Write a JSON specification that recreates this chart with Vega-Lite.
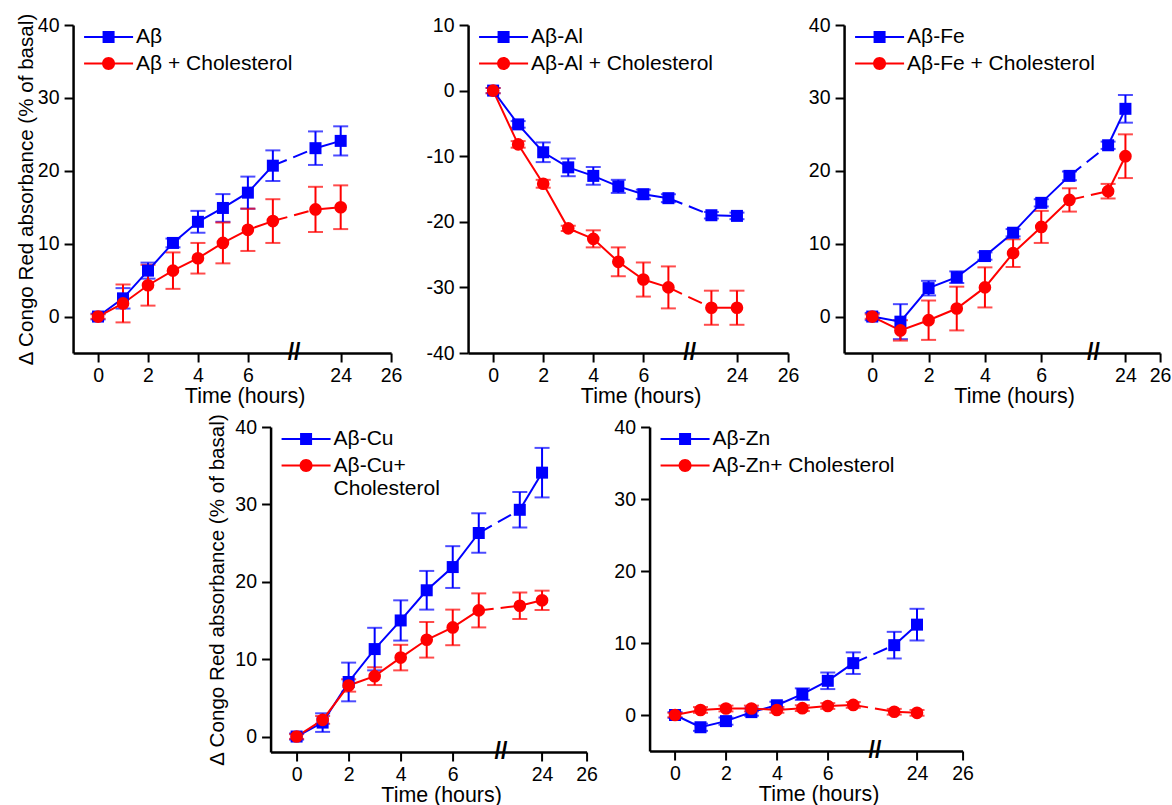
{
"$schema": "https://vega.github.io/schema/vega-lite/v6.json",
"background": "white",
"padding": {"left": 16, "top": 12, "right": 0, "bottom": 0},
"config": {
 "view": {"stroke": null},
 "font": "Liberation Sans",
 "axis": {"domainColor": "black", "domainWidth": 2.5, "tickColor": "black", "tickWidth": 2, "tickSize": 9, "labelFont": "Liberation Sans", "labelFontSize": 19.5, "labelColor": "black", "titleFont": "Liberation Sans", "titleFontSize": 21, "titleFontWeight": "normal", "titleColor": "black", "grid": false, "labelExpr": "replace(datum.label, '−', '-')"},
 "axisX": {"labelPadding": 4, "titlePadding": 1, "labelFlush": false, "titleFontSize": 21.4},
 "axisY": {"labelPadding": 5, "titleFontSize": 20.6},
 "legend": {"orient": "none", "legendX": 25, "legendY": 1.5, "labelFont": "Liberation Sans", "labelFontSize": 21, "labelColor": "black", "symbolSize": 400, "symbolStrokeWidth": 0, "labelOffset": 17, "rowPadding": 4.5, "padding": 0, "labelLimit": 400}
},
"datasets": {
 "ab": [
  {"t": 0, "series": "Aβ", "y": 0, "err": 0.4},
  {"t": 1, "series": "Aβ", "y": 2.5, "err": 1.4},
  {"t": 2, "series": "Aβ", "y": 6.3, "err": 1.1},
  {"t": 3, "series": "Aβ", "y": 10.1, "err": 0.6},
  {"t": 4, "series": "Aβ", "y": 13.0, "err": 1.5},
  {"t": 5, "series": "Aβ", "y": 14.9, "err": 1.9},
  {"t": 6, "series": "Aβ", "y": 17.0, "err": 2.2},
  {"t": 7, "series": "Aβ", "y": 20.7, "err": 2.1},
  {"t": 23, "series": "Aβ", "y": 23.1, "err": 2.3},
  {"t": 24, "series": "Aβ", "y": 24.1, "err": 2.0},
  {"t": 0, "series": "Aβ + Cholesterol", "y": 0, "err": 0.3},
  {"t": 1, "series": "Aβ + Cholesterol", "y": 1.8, "err": 2.6},
  {"t": 2, "series": "Aβ + Cholesterol", "y": 4.3, "err": 2.8},
  {"t": 3, "series": "Aβ + Cholesterol", "y": 6.3, "err": 2.5},
  {"t": 4, "series": "Aβ + Cholesterol", "y": 8.0, "err": 2.1},
  {"t": 5, "series": "Aβ + Cholesterol", "y": 10.1, "err": 2.8},
  {"t": 6, "series": "Aβ + Cholesterol", "y": 11.9, "err": 2.9},
  {"t": 7, "series": "Aβ + Cholesterol", "y": 13.1, "err": 3.0},
  {"t": 23, "series": "Aβ + Cholesterol", "y": 14.7, "err": 3.1},
  {"t": 24, "series": "Aβ + Cholesterol", "y": 15.0, "err": 3.0}
 ],
 "al": [
  {"t": 0, "series": "Aβ-Al", "y": 0, "err": 0.4},
  {"t": 1, "series": "Aβ-Al", "y": -5.15, "err": 0.5},
  {"t": 2, "series": "Aβ-Al", "y": -9.4, "err": 1.5},
  {"t": 3, "series": "Aβ-Al", "y": -11.7, "err": 1.35},
  {"t": 4, "series": "Aβ-Al", "y": -13.0, "err": 1.35},
  {"t": 5, "series": "Aβ-Al", "y": -14.6, "err": 1.0},
  {"t": 6, "series": "Aβ-Al", "y": -15.8, "err": 0.7},
  {"t": 7, "series": "Aβ-Al", "y": -16.4, "err": 0.6},
  {"t": 23, "series": "Aβ-Al", "y": -19.0, "err": 0.5},
  {"t": 24, "series": "Aβ-Al", "y": -19.1, "err": 0.5},
  {"t": 0, "series": "Aβ-Al + Cholesterol", "y": 0, "err": 0.4},
  {"t": 1, "series": "Aβ-Al + Cholesterol", "y": -8.2, "err": 0.5},
  {"t": 2, "series": "Aβ-Al + Cholesterol", "y": -14.2, "err": 0.6},
  {"t": 3, "series": "Aβ-Al + Cholesterol", "y": -21.0, "err": 0.4},
  {"t": 4, "series": "Aβ-Al + Cholesterol", "y": -22.6, "err": 1.3},
  {"t": 5, "series": "Aβ-Al + Cholesterol", "y": -26.1, "err": 2.2},
  {"t": 6, "series": "Aβ-Al + Cholesterol", "y": -28.8, "err": 2.6},
  {"t": 7, "series": "Aβ-Al + Cholesterol", "y": -30.0, "err": 3.2},
  {"t": 23, "series": "Aβ-Al + Cholesterol", "y": -33.1, "err": 2.6},
  {"t": 24, "series": "Aβ-Al + Cholesterol", "y": -33.1, "err": 2.6}
 ],
 "fe": [
  {"t": 0, "series": "Aβ-Fe", "y": 0, "err": 0.5},
  {"t": 1, "series": "Aβ-Fe", "y": -0.7, "err": 2.4},
  {"t": 2, "series": "Aβ-Fe", "y": 3.9, "err": 1.0},
  {"t": 3, "series": "Aβ-Fe", "y": 5.4, "err": 0.8},
  {"t": 4, "series": "Aβ-Fe", "y": 8.3, "err": 0.5},
  {"t": 5, "series": "Aβ-Fe", "y": 11.5, "err": 0.5},
  {"t": 6, "series": "Aβ-Fe", "y": 15.6, "err": 0.5},
  {"t": 7, "series": "Aβ-Fe", "y": 19.3, "err": 0.6},
  {"t": 23, "series": "Aβ-Fe", "y": 23.5, "err": 0.5},
  {"t": 24, "series": "Aβ-Fe", "y": 28.5, "err": 1.9},
  {"t": 0, "series": "Aβ-Fe + Cholesterol", "y": 0, "err": 0.3},
  {"t": 1, "series": "Aβ-Fe + Cholesterol", "y": -1.9, "err": 1.4},
  {"t": 2, "series": "Aβ-Fe + Cholesterol", "y": -0.5, "err": 2.7},
  {"t": 3, "series": "Aβ-Fe + Cholesterol", "y": 1.1, "err": 3.0},
  {"t": 4, "series": "Aβ-Fe + Cholesterol", "y": 4.0, "err": 2.75},
  {"t": 5, "series": "Aβ-Fe + Cholesterol", "y": 8.7, "err": 1.9},
  {"t": 6, "series": "Aβ-Fe + Cholesterol", "y": 12.3, "err": 2.2},
  {"t": 7, "series": "Aβ-Fe + Cholesterol", "y": 16.0, "err": 1.6},
  {"t": 23, "series": "Aβ-Fe + Cholesterol", "y": 17.2, "err": 1.0},
  {"t": 24, "series": "Aβ-Fe + Cholesterol", "y": 22.0, "err": 3.0}
 ],
 "cu": [
  {"t": 0, "series": "Aβ-Cu", "y": 0, "err": 0.4},
  {"t": 1, "series": "Aβ-Cu", "y": 1.8, "err": 1.2},
  {"t": 2, "series": "Aβ-Cu", "y": 7.05, "err": 2.5},
  {"t": 3, "series": "Aβ-Cu", "y": 11.3, "err": 2.75},
  {"t": 4, "series": "Aβ-Cu", "y": 15.0, "err": 2.6},
  {"t": 5, "series": "Aβ-Cu", "y": 18.9, "err": 2.5},
  {"t": 6, "series": "Aβ-Cu", "y": 21.9, "err": 2.7},
  {"t": 7, "series": "Aβ-Cu", "y": 26.3, "err": 2.55},
  {"t": 23, "series": "Aβ-Cu", "y": 29.3, "err": 2.3},
  {"t": 24, "series": "Aβ-Cu", "y": 34.1, "err": 3.2},
  {"t": 0, "series": "Aβ-Cu+ Cholesterol", "y": 0, "err": 0.3},
  {"t": 1, "series": "Aβ-Cu+ Cholesterol", "y": 2.15, "err": 0.5},
  {"t": 2, "series": "Aβ-Cu+ Cholesterol", "y": 6.6, "err": 0.8},
  {"t": 3, "series": "Aβ-Cu+ Cholesterol", "y": 7.8, "err": 1.15},
  {"t": 4, "series": "Aβ-Cu+ Cholesterol", "y": 10.2, "err": 1.65},
  {"t": 5, "series": "Aβ-Cu+ Cholesterol", "y": 12.5, "err": 2.3},
  {"t": 6, "series": "Aβ-Cu+ Cholesterol", "y": 14.1, "err": 2.3},
  {"t": 7, "series": "Aβ-Cu+ Cholesterol", "y": 16.3, "err": 2.2},
  {"t": 23, "series": "Aβ-Cu+ Cholesterol", "y": 16.9, "err": 1.7},
  {"t": 24, "series": "Aβ-Cu+ Cholesterol", "y": 17.6, "err": 1.25}
 ],
 "zn": [
  {"t": 0, "series": "Aβ-Zn", "y": 0, "err": 0.4},
  {"t": 1, "series": "Aβ-Zn", "y": -1.7, "err": 0.5},
  {"t": 2, "series": "Aβ-Zn", "y": -0.85, "err": 0.5},
  {"t": 3, "series": "Aβ-Zn", "y": 0.4, "err": 0.5},
  {"t": 4, "series": "Aβ-Zn", "y": 1.35, "err": 0.5},
  {"t": 5, "series": "Aβ-Zn", "y": 2.9, "err": 0.8},
  {"t": 6, "series": "Aβ-Zn", "y": 4.75, "err": 1.15},
  {"t": 7, "series": "Aβ-Zn", "y": 7.2, "err": 1.5},
  {"t": 23, "series": "Aβ-Zn", "y": 9.7, "err": 1.85},
  {"t": 24, "series": "Aβ-Zn", "y": 12.55, "err": 2.2},
  {"t": 0, "series": "Aβ-Zn+ Cholesterol", "y": 0, "err": 0.3},
  {"t": 1, "series": "Aβ-Zn+ Cholesterol", "y": 0.7, "err": 0.4},
  {"t": 2, "series": "Aβ-Zn+ Cholesterol", "y": 0.9, "err": 0.4},
  {"t": 3, "series": "Aβ-Zn+ Cholesterol", "y": 0.9, "err": 0.4},
  {"t": 4, "series": "Aβ-Zn+ Cholesterol", "y": 0.7, "err": 0.4},
  {"t": 5, "series": "Aβ-Zn+ Cholesterol", "y": 0.95, "err": 0.4},
  {"t": 6, "series": "Aβ-Zn+ Cholesterol", "y": 1.25, "err": 0.4},
  {"t": 7, "series": "Aβ-Zn+ Cholesterol", "y": 1.4, "err": 0.4},
  {"t": 23, "series": "Aβ-Zn+ Cholesterol", "y": 0.45, "err": 0.4},
  {"t": 24, "series": "Aβ-Zn+ Cholesterol", "y": 0.3, "err": 0.4}
 ]
},
"spacing": 6,
"center": true,
"resolve": {"scale": {"color": "independent", "shape": "independent"}, "legend": {"color": "independent", "shape": "independent"}},
"vconcat": [
 {"spacing": 0,
  "resolve": {"scale": {"color": "independent", "shape": "independent"}, "legend": {"color": "independent", "shape": "independent"}},
  "hconcat": [
  {"width": 318, "height": 328, "data": {"name": "ab"},
   "encoding": {
    "x": {"field": "t", "type": "quantitative", "scale": {"domain": [-1, 7.85, 22.15, 26], "range": [0, 221, 221, 318], "nice": false, "zero": false}, "axis": {"values": [0, 2, 4, 6, 24, 26], "title": "Time (hours)", "titleX": 171.5}},
    "y": {"field": "y", "type": "quantitative", "scale": {"domain": [-5, 40], "nice": false, "zero": false}, "axis": {"values": [0, 10, 20, 30, 40], "title": "Δ Congo Red absorbance (% of basal)", "titlePadding": 1}},
    "color": {"field": "series", "type": "nominal", "scale": {"domain": ["Aβ", "Aβ + Cholesterol"], "range": ["#0000FF", "#FF0000"]}, "legend": null}
   },
   "layer": [
    {"transform": [{"filter": "false"}], "mark": {"type": "point", "filled": true, "opacity": 1, "size": 400},
     "encoding": {
      "color": {"field": "series", "type": "nominal", "scale": {"domain": ["Aβ", "Aβ + Cholesterol"], "range": ["#0000FF", "#FF0000"]}, "legend": {"title": null}},
      "shape": {"field": "series", "type": "nominal", "scale": {"domain": ["Aβ", "Aβ + Cholesterol"], "range": ["M-2.45,-0.1H2.45V0.1H-2.45Z M-0.6,-0.6H0.6V0.6H-0.6Z", "M-2.45,-0.1H2.45V0.1H-2.45Z M-0.65,0A0.65,0.65 0 1,1 0.65,0A0.65,0.65 0 1,1 -0.65,0Z"]}, "legend": {"title": null}}
     }},
    {"mark": {"type": "errorbar", "thickness": 2, "ticks": {"size": 15, "thickness": 2}}, "encoding": {"yError": {"field": "err"}}},
    {"transform": [{"filter": "datum.t <= 7"}], "mark": {"type": "line", "strokeWidth": 2}},
    {"transform": [{"filter": "datum.t >= 7 && datum.t <= 23"}], "mark": {"type": "line", "strokeWidth": 2, "strokeDash": [15, 7]}},
    {"transform": [{"filter": "datum.t >= 23"}], "mark": {"type": "line", "strokeWidth": 2}},
    {"transform": [{"filter": "indexof(datum.series, 'Cholesterol') < 0"}], "mark": {"type": "point", "shape": "square", "filled": true, "size": 144, "opacity": 1}},
    {"transform": [{"filter": "indexof(datum.series, 'Cholesterol') >= 0"}], "mark": {"type": "point", "shape": "circle", "filled": true, "size": 160, "opacity": 1}},
    {"transform": [{"filter": "datum.t == 0 && indexof(datum.series, 'Cholesterol') < 0"}], "mark": {"type": "text", "text": "//", "fontSize": 23, "fontWeight": "bold", "fill": "black"}, "encoding": {"x": {"datum": 7.85, "type": "quantitative"}, "y": {"datum": -5, "type": "quantitative"}, "color": {"value": "black"}, "text": {"value": "//"}}}
   ]
  },
  {"width": 320, "height": 328, "data": {"name": "al"},
   "encoding": {
    "x": {"field": "t", "type": "quantitative", "scale": {"domain": [-1, 7.85, 22.15, 26], "range": [0, 221.6, 221.6, 320], "nice": false, "zero": false}, "axis": {"values": [0, 2, 4, 6, 24, 26], "title": "Time (hours)", "titleX": 172.5}},
    "y": {"field": "y", "type": "quantitative", "scale": {"domain": [-40, 10], "nice": false, "zero": false}, "axis": {"values": [-40, -30, -20, -10, 0, 10], "title": null, "minExtent": 66}},
    "color": {"field": "series", "type": "nominal", "scale": {"domain": ["Aβ-Al", "Aβ-Al + Cholesterol"], "range": ["#0000FF", "#FF0000"]}, "legend": null}
   },
   "layer": [
    {"transform": [{"filter": "false"}], "mark": {"type": "point", "filled": true, "opacity": 1, "size": 400},
     "encoding": {
      "color": {"field": "series", "type": "nominal", "scale": {"domain": ["Aβ-Al", "Aβ-Al + Cholesterol"], "range": ["#0000FF", "#FF0000"]}, "legend": {"title": null}},
      "shape": {"field": "series", "type": "nominal", "scale": {"domain": ["Aβ-Al", "Aβ-Al + Cholesterol"], "range": ["M-2.45,-0.1H2.45V0.1H-2.45Z M-0.6,-0.6H0.6V0.6H-0.6Z", "M-2.45,-0.1H2.45V0.1H-2.45Z M-0.65,0A0.65,0.65 0 1,1 0.65,0A0.65,0.65 0 1,1 -0.65,0Z"]}, "legend": {"title": null}}
     }},
    {"mark": {"type": "errorbar", "thickness": 2, "ticks": {"size": 15, "thickness": 2}}, "encoding": {"yError": {"field": "err"}}},
    {"transform": [{"filter": "datum.t <= 7"}], "mark": {"type": "line", "strokeWidth": 2}},
    {"transform": [{"filter": "datum.t >= 7 && datum.t <= 23"}], "mark": {"type": "line", "strokeWidth": 2, "strokeDash": [15, 7]}},
    {"transform": [{"filter": "datum.t >= 23"}], "mark": {"type": "line", "strokeWidth": 2}},
    {"transform": [{"filter": "indexof(datum.series, 'Cholesterol') < 0"}], "mark": {"type": "point", "shape": "square", "filled": true, "size": 144, "opacity": 1}},
    {"transform": [{"filter": "indexof(datum.series, 'Cholesterol') >= 0"}], "mark": {"type": "point", "shape": "circle", "filled": true, "size": 160, "opacity": 1}},
    {"transform": [{"filter": "datum.t == 0 && indexof(datum.series, 'Cholesterol') < 0"}], "mark": {"type": "text", "text": "//", "fontSize": 23, "fontWeight": "bold", "fill": "black"}, "encoding": {"x": {"datum": 7.85, "type": "quantitative"}, "y": {"datum": -40, "type": "quantitative"}, "color": {"value": "black"}, "text": {"value": "//"}}}
   ]
  },
  {"width": 316, "height": 328, "data": {"name": "fe"},
   "encoding": {
    "x": {"field": "t", "type": "quantitative", "scale": {"domain": [-1, 7.85, 22.15, 26], "range": [0, 249.3, 249.3, 316], "nice": false, "zero": false}, "axis": {"values": [0, 2, 4, 6, 24, 26], "title": "Time (hours)", "titleX": 170}},
    "y": {"field": "y", "type": "quantitative", "scale": {"domain": [-5, 40], "nice": false, "zero": false}, "axis": {"values": [0, 10, 20, 30, 40], "title": null, "minExtent": 45}},
    "color": {"field": "series", "type": "nominal", "scale": {"domain": ["Aβ-Fe", "Aβ-Fe + Cholesterol"], "range": ["#0000FF", "#FF0000"]}, "legend": null}
   },
   "layer": [
    {"transform": [{"filter": "false"}], "mark": {"type": "point", "filled": true, "opacity": 1, "size": 400},
     "encoding": {
      "color": {"field": "series", "type": "nominal", "scale": {"domain": ["Aβ-Fe", "Aβ-Fe + Cholesterol"], "range": ["#0000FF", "#FF0000"]}, "legend": {"title": null}},
      "shape": {"field": "series", "type": "nominal", "scale": {"domain": ["Aβ-Fe", "Aβ-Fe + Cholesterol"], "range": ["M-2.45,-0.1H2.45V0.1H-2.45Z M-0.6,-0.6H0.6V0.6H-0.6Z", "M-2.45,-0.1H2.45V0.1H-2.45Z M-0.65,0A0.65,0.65 0 1,1 0.65,0A0.65,0.65 0 1,1 -0.65,0Z"]}, "legend": {"title": null}}
     }},
    {"mark": {"type": "errorbar", "thickness": 2, "ticks": {"size": 15, "thickness": 2}}, "encoding": {"yError": {"field": "err"}}},
    {"transform": [{"filter": "datum.t <= 7"}], "mark": {"type": "line", "strokeWidth": 2}},
    {"transform": [{"filter": "datum.t >= 7 && datum.t <= 23"}], "mark": {"type": "line", "strokeWidth": 2, "strokeDash": [15, 7]}},
    {"transform": [{"filter": "datum.t >= 23"}], "mark": {"type": "line", "strokeWidth": 2}},
    {"transform": [{"filter": "indexof(datum.series, 'Cholesterol') < 0"}], "mark": {"type": "point", "shape": "square", "filled": true, "size": 144, "opacity": 1}},
    {"transform": [{"filter": "indexof(datum.series, 'Cholesterol') >= 0"}], "mark": {"type": "point", "shape": "circle", "filled": true, "size": 160, "opacity": 1}},
    {"transform": [{"filter": "datum.t == 0 && indexof(datum.series, 'Cholesterol') < 0"}], "mark": {"type": "text", "text": "//", "fontSize": 23, "fontWeight": "bold", "fill": "black"}, "encoding": {"x": {"datum": 7.85, "type": "quantitative"}, "y": {"datum": -5, "type": "quantitative"}, "color": {"value": "black"}, "text": {"value": "//"}}}
   ]
  }
 ]},
 {"spacing": 0,
  "resolve": {"scale": {"color": "independent", "shape": "independent"}, "legend": {"color": "independent", "shape": "independent"}},
  "hconcat": [
  {"width": 316, "height": 325, "data": {"name": "cu"},
   "encoding": {
    "x": {"field": "t", "type": "quantitative", "scale": {"domain": [-1, 7.85, 22.15, 26], "range": [0, 230.3, 230.3, 316], "nice": false, "zero": false}, "axis": {"values": [0, 2, 4, 6, 24, 26], "title": "Time (hours)", "titleX": 170.5}},
    "y": {"field": "y", "type": "quantitative", "scale": {"domain": [-2, 40], "nice": false, "zero": false}, "axis": {"values": [0, 10, 20, 30, 40], "title": "Δ Congo Red absorbance (% of basal)", "minExtent": 43, "titlePadding": 0}},
    "color": {"field": "series", "type": "nominal", "scale": {"domain": ["Aβ-Cu", "Aβ-Cu+ Cholesterol"], "range": ["#0000FF", "#FF0000"]}, "legend": null}
   },
   "layer": [
    {"transform": [{"filter": "false"}], "mark": {"type": "point", "filled": true, "opacity": 1, "size": 400},
     "encoding": {
      "color": {"field": "series", "type": "nominal", "scale": {"domain": ["Aβ-Cu", "Aβ-Cu+ Cholesterol"], "range": ["#0000FF", "#FF0000"]}, "legend": {"title": null, "labelExpr": "datum.label == 'Aβ-Cu+ Cholesterol' ? ['Aβ-Cu+', 'Cholesterol'] : datum.label"}},
      "shape": {"field": "series", "type": "nominal", "scale": {"domain": ["Aβ-Cu", "Aβ-Cu+ Cholesterol"], "range": ["M-2.45,-0.1H2.45V0.1H-2.45Z M-0.6,-0.6H0.6V0.6H-0.6Z", "M-2.45,-0.1H2.45V0.1H-2.45Z M-0.65,0A0.65,0.65 0 1,1 0.65,0A0.65,0.65 0 1,1 -0.65,0Z"]}, "legend": {"title": null, "labelExpr": "datum.label == 'Aβ-Cu+ Cholesterol' ? ['Aβ-Cu+', 'Cholesterol'] : datum.label"}}
     }},
    {"mark": {"type": "errorbar", "thickness": 2, "ticks": {"size": 15, "thickness": 2}}, "encoding": {"yError": {"field": "err"}}},
    {"transform": [{"filter": "datum.t <= 7"}], "mark": {"type": "line", "strokeWidth": 2}},
    {"transform": [{"filter": "datum.t >= 7 && datum.t <= 23"}], "mark": {"type": "line", "strokeWidth": 2, "strokeDash": [15, 7]}},
    {"transform": [{"filter": "datum.t >= 23"}], "mark": {"type": "line", "strokeWidth": 2}},
    {"transform": [{"filter": "indexof(datum.series, 'Cholesterol') < 0"}], "mark": {"type": "point", "shape": "square", "filled": true, "size": 144, "opacity": 1}},
    {"transform": [{"filter": "indexof(datum.series, 'Cholesterol') >= 0"}], "mark": {"type": "point", "shape": "circle", "filled": true, "size": 160, "opacity": 1}},
    {"transform": [{"filter": "datum.t == 0 && indexof(datum.series, 'Cholesterol') < 0"}], "mark": {"type": "text", "text": "//", "fontSize": 23, "fontWeight": "bold", "fill": "black"}, "encoding": {"x": {"datum": 7.85, "type": "quantitative"}, "y": {"datum": -2, "type": "quantitative"}, "color": {"value": "black"}, "text": {"value": "//"}}}
   ]
  },
  {"width": 313, "height": 324, "data": {"name": "zn"},
   "encoding": {
    "x": {"field": "t", "type": "quantitative", "scale": {"domain": [-1, 7.85, 22.15, 26], "range": [0, 225.3, 225.3, 313], "nice": false, "zero": false}, "axis": {"values": [0, 2, 4, 6, 24, 26], "title": "Time (hours)", "titleX": 169}},
    "y": {"field": "y", "type": "quantitative", "scale": {"domain": [-5, 40], "nice": false, "zero": false}, "axis": {"values": [0, 10, 20, 30, 40], "title": null, "minExtent": 52}},
    "color": {"field": "series", "type": "nominal", "scale": {"domain": ["Aβ-Zn", "Aβ-Zn+ Cholesterol"], "range": ["#0000FF", "#FF0000"]}, "legend": null}
   },
   "layer": [
    {"transform": [{"filter": "false"}], "mark": {"type": "point", "filled": true, "opacity": 1, "size": 400},
     "encoding": {
      "color": {"field": "series", "type": "nominal", "scale": {"domain": ["Aβ-Zn", "Aβ-Zn+ Cholesterol"], "range": ["#0000FF", "#FF0000"]}, "legend": {"title": null}},
      "shape": {"field": "series", "type": "nominal", "scale": {"domain": ["Aβ-Zn", "Aβ-Zn+ Cholesterol"], "range": ["M-2.45,-0.1H2.45V0.1H-2.45Z M-0.6,-0.6H0.6V0.6H-0.6Z", "M-2.45,-0.1H2.45V0.1H-2.45Z M-0.65,0A0.65,0.65 0 1,1 0.65,0A0.65,0.65 0 1,1 -0.65,0Z"]}, "legend": {"title": null}}
     }},
    {"mark": {"type": "errorbar", "thickness": 2, "ticks": {"size": 15, "thickness": 2}}, "encoding": {"yError": {"field": "err"}}},
    {"transform": [{"filter": "datum.t <= 7"}], "mark": {"type": "line", "strokeWidth": 2}},
    {"transform": [{"filter": "datum.t >= 7 && datum.t <= 23"}], "mark": {"type": "line", "strokeWidth": 2, "strokeDash": [15, 7]}},
    {"transform": [{"filter": "datum.t >= 23"}], "mark": {"type": "line", "strokeWidth": 2}},
    {"transform": [{"filter": "indexof(datum.series, 'Cholesterol') < 0"}], "mark": {"type": "point", "shape": "square", "filled": true, "size": 144, "opacity": 1}},
    {"transform": [{"filter": "indexof(datum.series, 'Cholesterol') >= 0"}], "mark": {"type": "point", "shape": "circle", "filled": true, "size": 160, "opacity": 1}},
    {"transform": [{"filter": "datum.t == 0 && indexof(datum.series, 'Cholesterol') < 0"}], "mark": {"type": "text", "text": "//", "fontSize": 23, "fontWeight": "bold", "fill": "black"}, "encoding": {"x": {"datum": 7.85, "type": "quantitative"}, "y": {"datum": -5, "type": "quantitative"}, "color": {"value": "black"}, "text": {"value": "//"}}}
   ]
  }
 ]}
]
}
